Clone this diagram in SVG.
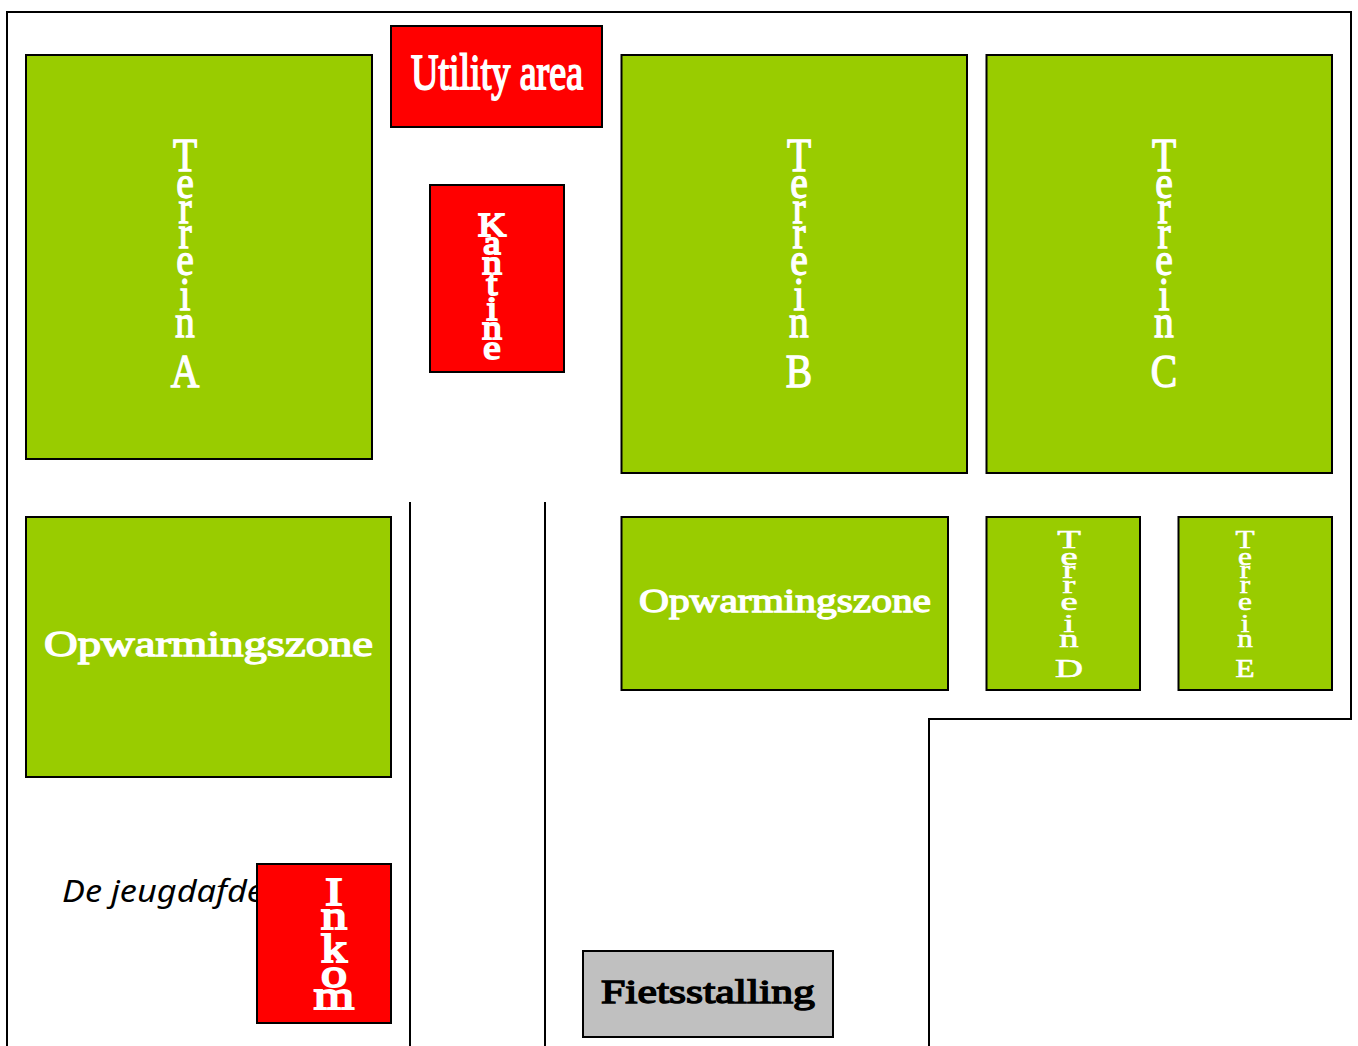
<svg xmlns="http://www.w3.org/2000/svg" width="1358" height="1046" viewBox="0 0 1358 1046">
<style>
.g{fill:#99cc00;stroke:#000;stroke-width:2}
.r{fill:#ff0000;stroke:#000;stroke-width:2}
.s{fill:#c0c0c0;stroke:#000;stroke-width:2}
.l{fill:none;stroke:#000;stroke-width:2}
text{font-family:"Liberation Serif",serif}
.w{fill:#fff;stroke:#fff;stroke-width:.6}
.h{stroke-width:1.3}
.x{stroke-width:1.9}
.c{text-anchor:middle}
.big{font-size:46px}
</style>
<rect width="1358" height="1046" fill="#fff"/>
<g id="connectors">
<path class="l" d="M7 1046V12H1351V719H929V1046"/>
<path class="l" d="M410 502V1046"/>
<path class="l" d="M545 502V1046"/>
</g>
<g id="terrein-a"><rect class="g" x="26" y="55" width="346" height="404"/>
<g transform="translate(185 0) scale(.86 1)"><text class="w c big h" x="0 0 0 0 0 0 0 0 0" y="171 198 223 248 275 310 337 360 387">Terrein A</text></g></g>
<g id="utility"><rect class="r" x="391" y="26" width="211" height="101"/>
<text class="w x" x="411" y="89" font-size="50" textLength="172" lengthAdjust="spacingAndGlyphs">Utility area</text></g>
<g id="kantine"><rect class="r" x="430" y="185" width="134" height="187"/>
<g transform="translate(492 0) scale(1.15 1)"><text class="w c x" font-size="34" x="0 0 0 0 0 0 0" y="236 254 274 295 320 339 359">Kantine</text></g></g>
<g id="terrein-b"><rect class="g" x="621.5" y="55" width="345.5" height="418"/>
<g transform="translate(799 0) scale(.86 1)"><text class="w c big h" x="0 0 0 0 0 0 0 0 0" y="171 198 223 248 275 310 337 360 387">Terrein B</text></g></g>
<g id="terrein-c"><rect class="g" x="986.5" y="55" width="345.5" height="418"/>
<g transform="translate(1164 0) scale(.86 1)"><text class="w c big h" x="0 0 0 0 0 0 0 0 0" y="171 198 223 248 275 310 337 360 387">Terrein C</text></g></g>
<g id="opwarming-1"><rect class="g" x="26" y="517" width="365" height="260"/>
<text class="w h" x="44" y="656" font-size="35" textLength="329" lengthAdjust="spacingAndGlyphs">Opwarmingszone</text></g>
<g id="opwarming-2"><rect class="g" x="621.5" y="517" width="326.5" height="173"/>
<text class="w h" x="639" y="612" font-size="33" textLength="292" lengthAdjust="spacingAndGlyphs">Opwarmingszone</text></g>
<g id="terrein-d"><rect class="g" x="986.5" y="517" width="153.5" height="173"/>
<g transform="translate(1069 0) scale(1.55 1)"><text class="w c" stroke-width="1" font-size="25" x="0 0 0 0 0 0 0 0 0" y="548 565 578 593 610 632 647 664 677">Terrein D</text></g></g>
<g id="terrein-e"><rect class="g" x="1178.5" y="517" width="153.5" height="173"/>
<g transform="translate(1245 0) scale(1.25 1)"><text class="w c" stroke-width="1" font-size="25" x="0 0 0 0 0 0 0 0 0" y="548 565 578 593 610 632 647 664 677">Terrein E</text></g></g>
<text id="jeugd" x="62" y="902" font-size="30" font-style="italic" style="font-family:'Noto Sans',sans-serif" textLength="202" lengthAdjust="spacingAndGlyphs">De jeugdafde</text>
<g id="inkom"><rect class="r" x="257" y="864" width="134" height="159"/>
<g transform="translate(334 0) scale(1.3 1)"><text class="w c x" font-size="40" x="0 0 0 0 0" y="905 929 962 987 1009">Inkom</text></g></g>
<g id="fietsstalling"><rect class="s" x="583" y="951" width="250" height="86"/>
<text x="601" y="1003" font-size="34" stroke="#000" stroke-width="1.4" textLength="214" lengthAdjust="spacingAndGlyphs">Fietsstalling</text></g>
</svg>
